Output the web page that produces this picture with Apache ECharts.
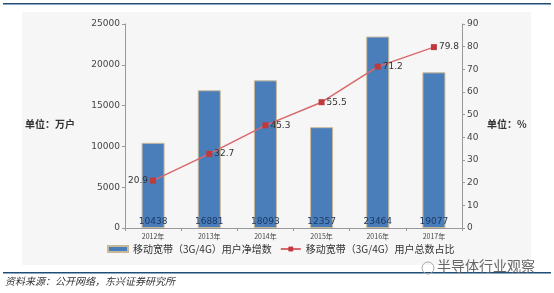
<!DOCTYPE html>
<html>
<head>
<meta charset="utf-8">
<script src="https://cdn.jsdelivr.net/npm/echarts@6/dist/echarts.min.js"></script>
<style>
  html, body { margin: 0; padding: 0; background: #fff; }
  #chart { width: 554px; height: 293px; }
</style>
</head>
<body>
<div id="chart"></div>
<script>
    // 数据
    var years = ['2012年', '2013年', '2014年', '2015年', '2016年', '2017年'];
    var netAdds = [10438, 16881, 18093, 12357, 23464, 19077];
    var shareRatio = [20.9, 32.7, 45.3, 55.5, 71.2, 79.8];
    var barName = '移动宽带（3G/4G）用户净增数';
    var lineName = '移动宽带（3G/4G）用户总数占比';

    var myChart = echarts.init(document.getElementById('chart'));

    var tickFont = { fontSize: 9, color: '#444', fontFamily: 'DejaVu Sans' };

    var option = {
        backgroundColor: '#fff',
        animation: false,
        // 背景面板、上下分隔线、单位、来源
        graphic: [
            { type: 'rect', shape: { x: 22, y: 12, width: 509, height: 253 }, style: { fill: '#f6f6f6' }, z: -10 },
            { type: 'rect', shape: { x: 3, y: 3, width: 548, height: 1.5 }, style: { fill: '#1f4e79' } },
            { type: 'rect', shape: { x: 3, y: 272, width: 548, height: 1.5 }, style: { fill: '#1f4e79' } },
            { type: 'text', left: 25, top: 119, style: { text: '单位：万户', fontSize: 10, fontWeight: 'bold', fill: '#333', fontFamily: 'Noto Sans CJK SC' } },
            { type: 'text', left: 487, top: 119, style: { text: '单位：%', fontSize: 10, fontWeight: 'bold', fill: '#333', fontFamily: 'Noto Sans CJK SC' } },
            { type: 'text', left: 5, top: 276, style: { text: '资料来源：公开网络，东兴证券研究所', fontSize: 10, fontStyle: 'italic', fill: '#333', fontFamily: 'Noto Sans CJK SC' } },
            { type: 'text', left: 437, top: 259, style: { text: '半导体行业观察', fontSize: 14, fill: '#666', fontFamily: 'Noto Sans CJK SC' } },
            { type: 'circle', shape: { cx: 428, cy: 268, r: 6 }, style: { fill: 'none', stroke: '#aaa', lineWidth: 1 } }
        ],
        grid: {
            left: 125,
            right: 92,
            top: 24,
            bottom: 65
        },
        legend: {
            bottom: 34,
            left: 102,
            itemWidth: 20,
            itemHeight: 6,
            itemGap: 8,
            textStyle: { fontSize: 10, color: '#333', fontFamily: 'Noto Sans CJK SC' },
            data: [
                { name: barName, icon: 'rect' },
                { name: lineName }
            ]
        },
        xAxis: [
            {
                type: 'category',
                data: years,
                axisLine: { lineStyle: { color: '#999' } },
                axisTick: { show: true, alignWithLabel: false, length: 3, lineStyle: { color: '#999' } },
                axisLabel: { fontSize: 7, color: '#444', margin: 5, fontFamily: 'Noto Sans CJK SC' }
            }
        ],
        yAxis: [
            {
                type: 'value',
                min: 0,
                max: 25000,
                interval: 5000,
                splitLine: { show: false },
                axisLine: { show: true, lineStyle: { color: '#999' } },
                axisTick: { show: true, length: 3, lineStyle: { color: '#999' } },
                axisLabel: Object.assign({ margin: 5, formatter: function (v) { return String(v); } }, tickFont)
            },
            {
                type: 'value',
                min: 0,
                max: 90,
                interval: 10,
                splitLine: { show: false },
                axisLine: { show: true, lineStyle: { color: '#999' } },
                axisTick: { show: true, length: 3, lineStyle: { color: '#999' } },
                axisLabel: Object.assign({ margin: 5 }, tickFont)
            }
        ],
        series: [
            {
                name: barName,
                type: 'bar',
                yAxisIndex: 0,
                barWidth: 23,
                itemStyle: { color: '#4a7ebb', borderColor: '#c8b89a', borderWidth: 1 },
                label: {
                    show: true,
                    position: 'insideBottom',
                    distance: 2,
                    fontSize: 9,
                    color: '#1c3766',
                    fontFamily: 'DejaVu Sans'
                },
                data: netAdds
            },
            {
                name: lineName,
                type: 'line',
                yAxisIndex: 1,
                symbol: 'rect',
                symbolSize: 6,
                itemStyle: { color: '#c0393b' },
                lineStyle: { color: '#d9686a', width: 1.5 },
                label: {
                    show: true,
                    position: 'right',
                    distance: 2,
                    fontSize: 9,
                    color: '#333',
                    fontFamily: 'DejaVu Sans',
                    formatter: function (p) { return p.value.toFixed(1); }
                },
                data: shareRatio.map(function (v, i) {
                    return i === 0 ? { value: v, label: { position: 'left' } } : v;
                })
            }
        ]
    };

    myChart.setOption(option);
</script>
</body>
</html>
